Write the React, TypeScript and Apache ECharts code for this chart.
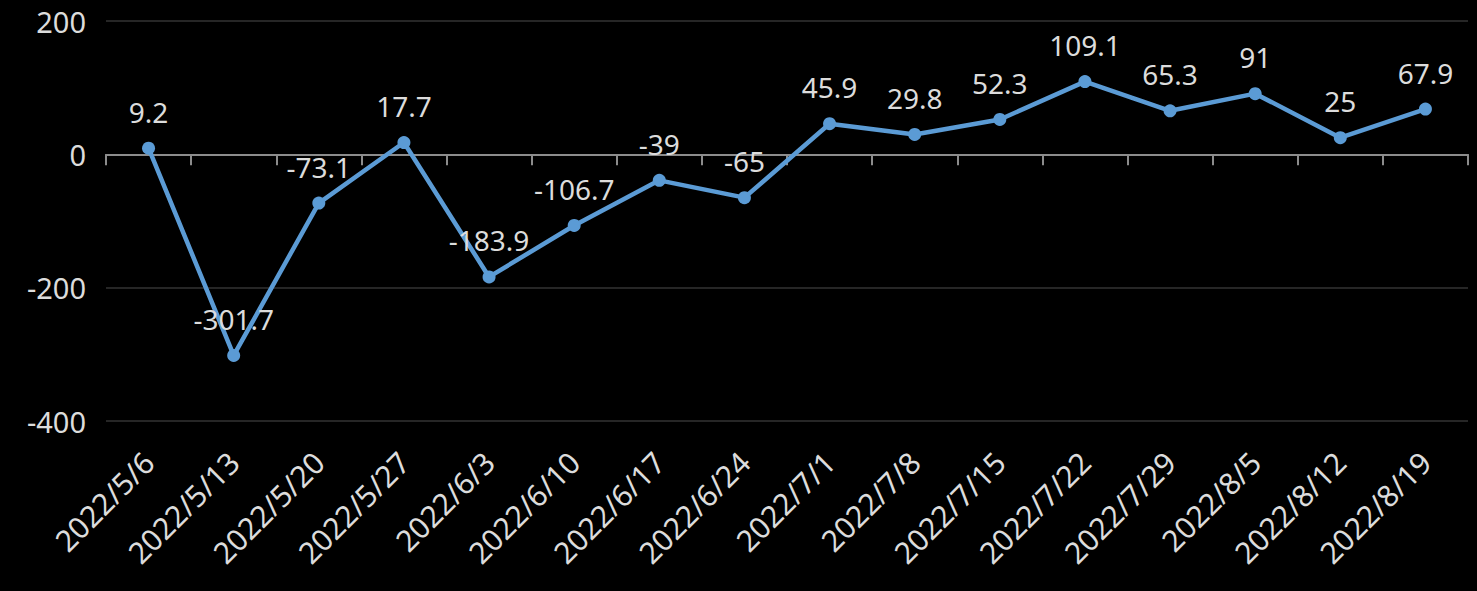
import React, { useEffect, useRef } from "react";
import * as echarts from "echarts";

const categories = [
  "2022/5/6", "2022/5/13", "2022/5/20", "2022/5/27", "2022/6/3", "2022/6/10",
  "2022/6/17", "2022/6/24", "2022/7/1", "2022/7/8", "2022/7/15", "2022/7/22",
  "2022/7/29", "2022/8/5", "2022/8/12", "2022/8/19",
];
const values = [9.2, -301.7, -73.1, 17.7, -183.9, -106.7, -39, -65, 45.9, 29.8, 52.3, 109.1, 65.3, 91, 25, 67.9];
const yMin = -400;
const yMax = 200;
const yInterval = 200;

const FONT = "'Noto Sans', sans-serif";
const TEXT = "#dcdcdc";

export default function App() {
  const ref = useRef<HTMLDivElement>(null);
  useEffect(() => {
    if (!ref.current) return;
    const chart = echarts.init(ref.current, null, { renderer: "svg" });
    chart.setOption({
      animation: false,
      backgroundColor: "#000000",
      grid: { left: 106, right: 9, top: 21, bottom: 170, containLabel: false },
      xAxis: [
        {
          type: "category",
          data: categories,
          position: "bottom",
          axisLine: { show: false, onZero: false },
          axisTick: { show: false },
          axisLabel: {
            rotate: 45,
            color: TEXT,
            fontSize: 30,
            fontFamily: FONT,
            margin: 36,
            interval: 0,
          },
          splitLine: { show: false },
        },
        {
          type: "category",
          data: categories,
          position: "bottom",
          axisLine: { show: true, onZero: true, lineStyle: { color: "#8c8c8c", width: 2 } },
          axisTick: { show: true, length: 11, lineStyle: { color: "#8c8c8c", width: 2 }, interval: 0 },
          axisLabel: { show: false },
          splitLine: { show: false },
        },
      ],
      yAxis: {
        type: "value",
        min: yMin,
        max: yMax,
        interval: yInterval,
        axisLine: { show: false },
        axisTick: { show: false },
        axisLabel: { color: TEXT, fontSize: 29, fontFamily: FONT, margin: 20 },
        splitLine: { lineStyle: { color: "#262626", width: 2 } },
      },
      series: [
        {
          type: "line",
          xAxisIndex: 0,
          data: values,
          lineStyle: { color: "#5b9bd5", width: 4.5 },
          itemStyle: { color: "#5b9bd5" },
          symbol: "circle",
          symbolSize: 13,
          label: {
            show: true,
            position: "top",
            distance: 16,
            color: TEXT,
            fontSize: 28,
            fontFamily: FONT,
          },
        },
      ],
    });
    return () => chart.dispose();
  }, []);
  return (
    <div
      ref={ref}
      style={{ position: "fixed", left: 0, top: 0, width: 1477, height: 591, background: "#000" }}
    />
  );
}
